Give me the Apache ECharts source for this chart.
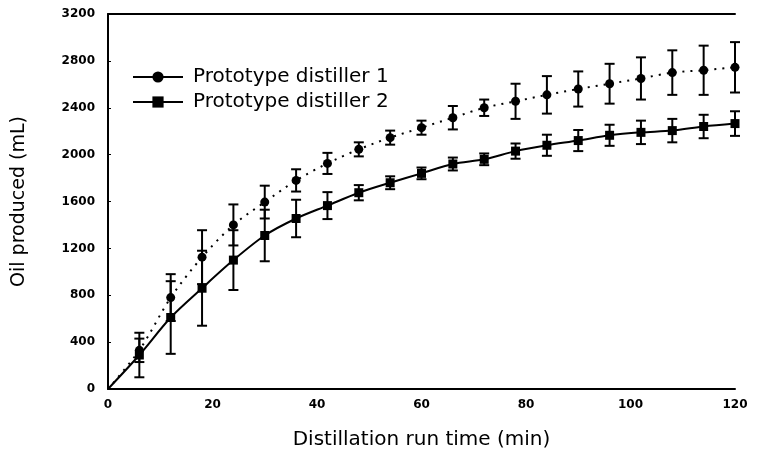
<!DOCTYPE html>
<html><head><meta charset="utf-8">
<script src="https://cdn.jsdelivr.net/npm/echarts@6/dist/echarts.min.js"></script>
<style>html,body{margin:0;padding:0;background:#fff}#c{width:758px;height:457px}</style>
</head><body><div id="c"></div>
<script>
var times = [6,12,18,24,30,36,42,48,54,60,66,72,78,84,90,96,102,108,114,120];
var distiller1 = [330,780,1125,1400,1595,1780,1925,2045,2145,2230,2315,2400,2455,2510,2560,2605,2650,2700,2720,2745];
var distiller1Err = [100,200,230,175,140,95,90,60,60,60,100,70,150,160,150,170,180,190,210,215];
var distiller2 = [290,610,860,1100,1310,1455,1565,1675,1760,1840,1920,1960,2030,2080,2120,2165,2190,2205,2240,2265];
var distiller2Err = [190,310,320,255,220,160,115,65,55,50,55,50,65,90,90,90,100,100,100,105];
var seriesNames = ['Prototype distiller 1','Prototype distiller 2'];
var yTicks = [0,400,800,1200,1600,2000,2400,2800,3200];
var xTicks = [0,20,40,60,80,100,120];

function lineData(vals){
  var d=[{value:[0,0],symbol:'none'}];
  for(var i=0;i<times.length;i++) d.push([times[i],vals[i]]);
  return d;
}
function errData(vals,errs){
  return times.map(function(t,i){return [t, vals[i]-errs[i], vals[i]+errs[i]];});
}
function renderErr(params, api){
  var x=api.value(0), lo=api.value(1), hi=api.value(2);
  var p1=api.coord([x,hi]), p2=api.coord([x,lo]);
  var w=5;
  var st={stroke:'#000',lineWidth:2};
  return {type:'group',children:[
    {type:'line',shape:{x1:p1[0],y1:p1[1],x2:p2[0],y2:p2[1]},style:st},
    {type:'line',shape:{x1:p1[0]-w,y1:p1[1],x2:p1[0]+w,y2:p1[1]},style:st},
    {type:'line',shape:{x1:p2[0]-w,y1:p2[1],x2:p2[0]+w,y2:p2[1]},style:st}
  ]};
}
var chart = echarts.init(document.getElementById('c'),null,{renderer:'canvas'});
var font = 'DejaVu Sans, Liberation Sans, sans-serif';
var tickFont = 'DejaVu Sans, sans-serif';
chart.setOption({
  animation:false,
  backgroundColor:'#fff',
  grid:{left:108,right:23,top:14,bottom:68,containLabel:false},
  legend:{
    left:127, top:62, orient:'vertical', itemGap:5, itemWidth:50, itemHeight:14,
    textStyle:{fontFamily:font,fontSize:20,color:'#000',padding:[0,0,0,5]},
    lineStyle:{type:'solid',width:2,color:'#000'},
    itemStyle:{color:'#000'},
    data:[seriesNames[0],seriesNames[1]]
  },
  xAxis:[{
    type:'value',min:0,max:120,interval:20,
    name:'Distillation run time (min)',nameLocation:'middle',nameGap:41,
    nameTextStyle:{fontFamily:font,fontSize:20,color:'#000'},
    axisLine:{lineStyle:{color:'#000',width:2}},
    axisTick:{show:false},
    splitLine:{show:false},
    axisLabel:{fontFamily:tickFont,fontSize:12,fontWeight:'bold',color:'#000',margin:10}
  },{
    type:'value',min:0,max:120,position:'top',
    axisLine:{show:true,lineStyle:{color:'#000',width:2}},
    axisTick:{show:false},axisLabel:{show:false},splitLine:{show:false}
  }],
  yAxis:{
    type:'value',min:0,max:3200,interval:400,
    name:'Oil produced (mL)',nameLocation:'middle',nameGap:79,
    nameTextStyle:{fontFamily:font,fontSize:19,color:'#000'},
    axisLine:{show:true,lineStyle:{color:'#000',width:2}},
    axisTick:{show:true,inside:true,length:3,lineStyle:{color:'#000'}},
    splitLine:{show:false},
    axisLabel:{fontFamily:tickFont,fontSize:12,fontWeight:'bold',color:'#000',margin:13,
      formatter:function(v){return String(v);}}
  },
  series:[
    {name:seriesNames[0],type:'line',data:lineData(distiller1),smooth:0.3,
     symbol:'circle',symbolSize:9,itemStyle:{color:'#000'},
     lineStyle:{color:'#000',width:2,type:[2,6]},z:3},
    {name:seriesNames[1],type:'line',data:lineData(distiller2),smooth:0.3,
     symbol:'rect',symbolSize:9,itemStyle:{color:'#000'},
     lineStyle:{color:'#000',width:2,type:'solid'},z:3},
    {type:'custom',renderItem:renderErr,data:errData(distiller1,distiller1Err),encode:{x:0,y:[1,2]},z:2,silent:true},
    {type:'custom',renderItem:renderErr,data:errData(distiller2,distiller2Err),encode:{x:0,y:[1,2]},z:2,silent:true}
  ]
});
</script></body></html>
